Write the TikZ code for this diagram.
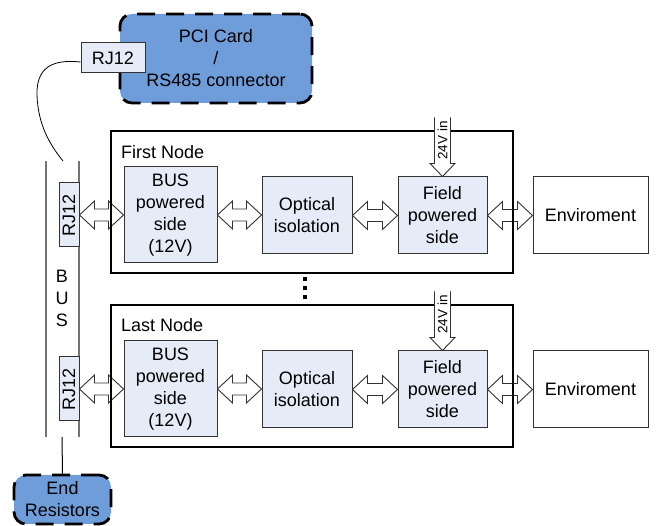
\documentclass[tikz,border=0pt]{standalone}
\usepackage{fontspec}
\setmainfont{Liberation Sans}
\usetikzlibrary{calc}
\definecolor{pciblue}{RGB}{111,157,217}
\definecolor{boxfill}{RGB}{230,236,247}
\definecolor{edge}{RGB}{50,50,50}
\tikzset{
  bigfont/.style={font=\fontsize{18}{22}\selectfont},
  block/.style={draw=edge, line width=1pt, fill=boxfill, align=center, inner sep=0pt, bigfont},
  plainbox/.style={draw=edge, line width=1pt, fill=white, align=center, inner sep=0pt, bigfont},
  dashbox/.style={draw=black, line width=2.8pt, dash pattern=on 18pt off 11pt, rounded corners=12pt, fill=pciblue, align=center, inner sep=0pt, bigfont},
  frame/.style={draw=black, line width=1.3pt, inner sep=0pt},
  arrowline/.style={draw=edge, line width=0.9pt},
  busline/.style={draw=black!55, line width=1.2pt},
  cable/.style={draw=black, line width=0.8pt},
  lbl/.style={bigfont, anchor=west, inner sep=0pt},
  vtxt/.style={font=\fontsize{13.5}{15}\selectfont, rotate=90, inner sep=0pt},
}
\newcommand\dblarr[2]{%
  \path let \p1=(#1.east), \p2=(#2.west) in
    [fill=white, arrowline] (\x1,\y1) -- (\x1+15pt,\y1+14pt) -- (\x1+15pt,\y1+6pt) -- (\x2-15pt,\y1+6pt)
    -- (\x2-15pt,\y1+14pt) -- (\x2,\y1) -- (\x2-15pt,\y1-14pt) -- (\x2-15pt,\y1-6pt)
    -- (\x1+15pt,\y1-6pt) -- (\x1+15pt,\y1-14pt) -- cycle;}
\newcommand\vinarr[2]{%
  \path let \p1=(#1.north) in
    [fill=white] (\x1,\y1) -- (\x1-12.5pt,\y1+13pt) -- (\x1-8pt,\y1+13pt) -- (\x1-8pt,\y1+59pt)
    -- (\x1+8pt,\y1+59pt) -- (\x1+8pt,\y1+13pt) -- (\x1+12.5pt,\y1+13pt) -- cycle;
  \path let \p1=(#1.north) in
    [arrowline] (\x1-8pt,\y1+59pt) -- (\x1-8pt,\y1+13pt) -- (\x1-12.5pt,\y1+13pt) -- (\x1,\y1)
    -- (\x1+12.5pt,\y1+13pt) -- (\x1+8pt,\y1+13pt) -- (\x1+8pt,\y1+59pt)
    node[vtxt] (#2) at (\x1,\y1+36pt) {24V in};}
\begin{document}
\begin{tikzpicture}[x=1pt,y=-1pt]
\useasboundingbox (0,0) rectangle (657,526);

% PCI card and its connector
\node[dashbox, minimum width=192, minimum height=89] (pci) at (216,58.5) {PCI Card\\/\\RS485 connector};
\node[block, minimum width=64, minimum height=30] (rjtop) at (113,58) {RJ12};

% bus
\coordinate (bustopL) at (46,161);
\coordinate (busbotL) at (46,437);
\coordinate (bustopR) at (79,161);
\coordinate (busbotR) at (79,437);
\coordinate (cabend) at (63,161);
\coordinate (busbot) at (62,437);
\draw[busline] (bustopL) -- (busbotL);
\draw[busline] (bustopR) -- (busbotR);
\draw[cable] ([yshift=-4pt]rjtop.west) .. controls (60,60) and (36,62) .. (37,95) .. controls (38,125) and (50,145) .. (cabend);
\node[bigfont, align=center, inner sep=0pt] (bustxt) at (62,298) {B\\U\\S};

% bus connectors
\node[block, minimum width=20, minimum height=64] (rj1) at (69,215) {\rotatebox{90}{RJ12}};
\node[block, minimum width=20, minimum height=64] (rj2) at (69,389) {\rotatebox{90}{RJ12}};

% end resistors
\node[dashbox, minimum width=97, minimum height=49] (endres) at (62.5,499.5) {End\\Resistors};
\draw[line width=1pt] (busbot) -- (endres.north);

% first node
\node[block, minimum width=93, minimum height=96] (bus1) at (170.5,215) {BUS\\powered\\side\\(12V)};
\node[block, minimum width=90, minimum height=77] (opt1) at (307,215.5) {Optical\\isolation};
\node[block, minimum width=89, minimum height=77] (fld1) at (442.5,215.5) {Field\\powered\\side};
\node[plainbox, minimum width=115, minimum height=77] (env1) at (590.5,215.5) {Enviroment};

% last node
\node[block, minimum width=93, minimum height=96] (bus2) at (170.5,389) {BUS\\powered\\side\\(12V)};
\node[block, minimum width=90, minimum height=77] (opt2) at (307,389.5) {Optical\\isolation};
\node[block, minimum width=89, minimum height=77] (fld2) at (442.5,389.5) {Field\\powered\\side};
\node[plainbox, minimum width=115, minimum height=77] (env2) at (590.5,389.5) {Enviroment};

% double arrows
\dblarr{rj1}{bus1}
\dblarr{bus1}{opt1}
\dblarr{opt1}{fld1}
\dblarr{fld1}{env1}
\dblarr{rj2}{bus2}
\dblarr{bus2}{opt2}
\dblarr{opt2}{fld2}
\dblarr{fld2}{env2}

% node frames
\node[frame, minimum width=402, minimum height=142] (frame1) at (312,202) {};
\node[frame, minimum width=402, minimum height=142] (frame2) at (312,376) {};
\node[lbl] (lab1) at (121,152) {First Node};
\node[lbl] (lab2) at (121,325) {Last Node};

% 24V inputs
\vinarr{fld1}{v1}
\vinarr{fld2}{v2}

% dots between nodes
\coordinate (dtop) at (305,277);
\coordinate (dbot) at (305,300);
\draw[line width=4pt, dash pattern=on 4pt off 5pt] (dtop) -- (dbot);
\end{tikzpicture}
\end{document}
